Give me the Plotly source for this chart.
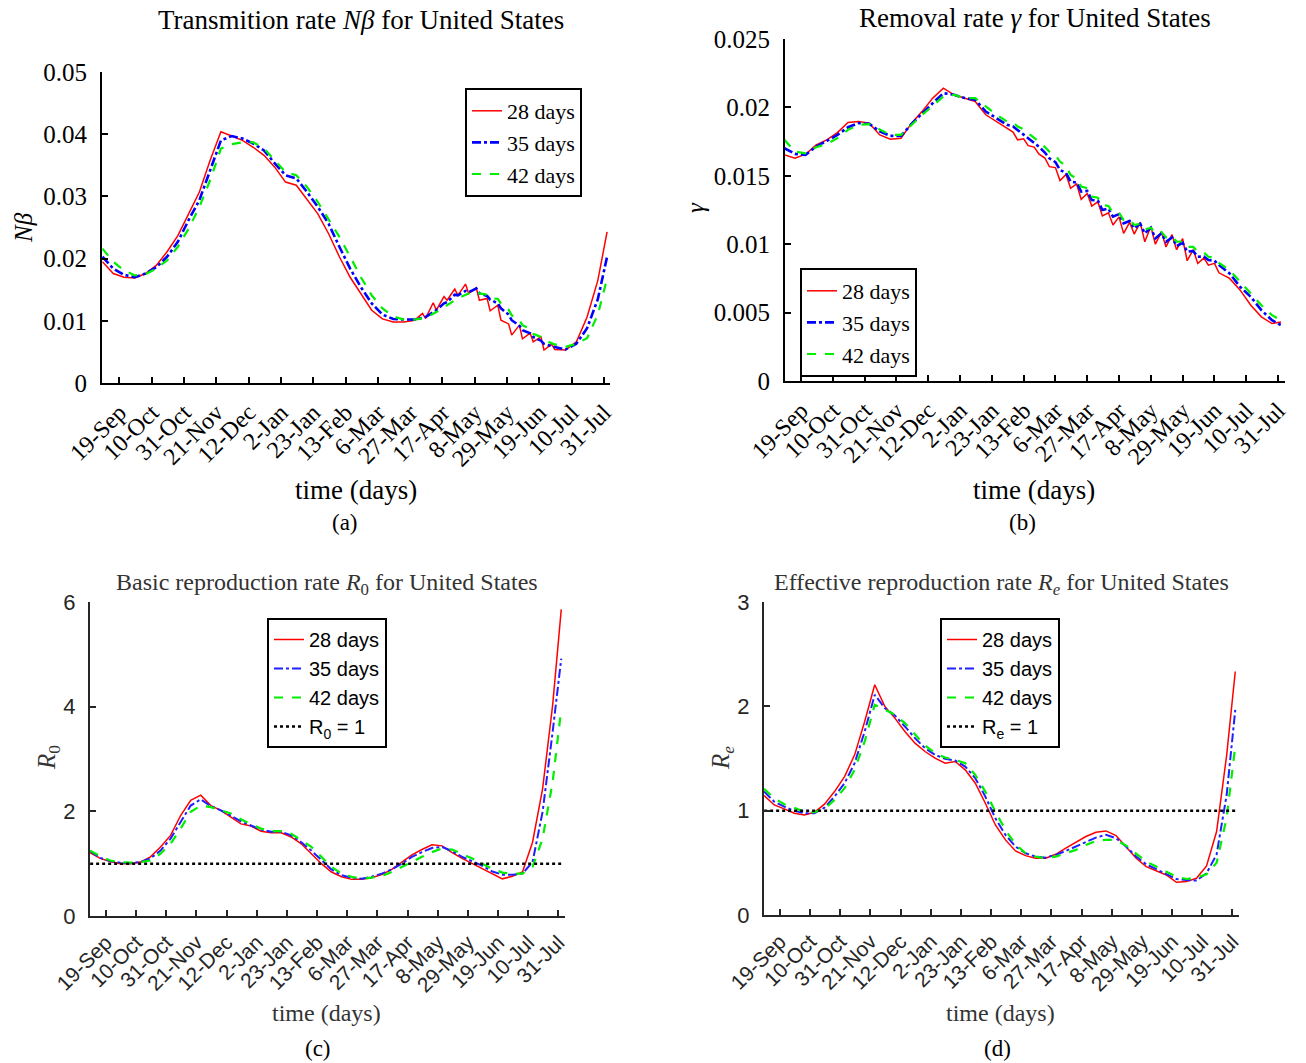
import plotly.graph_objects as go
import pandas as pd

# ---------------- data ----------------
DATES = ["2020-09-08", "2020-09-15", "2020-09-22", "2020-09-29", "2020-10-06", "2020-10-13",
         "2020-10-20", "2020-10-27", "2020-11-03", "2020-11-10", "2020-11-17", "2020-11-24",
         "2020-12-01", "2020-12-08", "2020-12-15", "2020-12-22", "2020-12-29", "2021-01-05",
         "2021-01-12", "2021-01-19", "2021-01-26", "2021-02-02", "2021-02-09", "2021-02-16",
         "2021-02-23", "2021-03-02", "2021-03-09", "2021-03-16", "2021-03-23", "2021-03-30",
         "2021-04-06", "2021-04-13", "2021-04-20", "2021-04-27", "2021-05-04", "2021-05-11",
         "2021-05-18", "2021-05-25", "2021-06-01", "2021-06-08", "2021-06-15", "2021-06-22",
         "2021-06-29", "2021-07-06", "2021-07-13", "2021-07-20", "2021-07-27", "2021-08-02"]

TICK_DATES = ["2020-09-19", "2020-10-10", "2020-10-31", "2020-11-21", "2020-12-12", "2021-01-02",
              "2021-01-23", "2021-02-13", "2021-03-06", "2021-03-27", "2021-04-17", "2021-05-08",
              "2021-05-29", "2021-06-19", "2021-07-10", "2021-07-31"]
TICK_LABELS = ["19-Sep", "10-Oct", "31-Oct", "21-Nov", "12-Dec", "2-Jan", "23-Jan", "13-Feb",
               "6-Mar", "27-Mar", "17-Apr", "8-May", "29-May", "19-Jun", "10-Jul", "31-Jul"]

SERIES_NAMES = ["28 days", "35 days", "42 days"]

# (a) transmission rate N*beta (weekly samples)
NB_28 = [0.0195, 0.0176, 0.0170, 0.0169, 0.0176, 0.0189, 0.0211, 0.0237, 0.0272, 0.0307, 0.0358, 0.0404,
         0.0397, 0.0390, 0.0379, 0.0366, 0.0347, 0.0323, 0.0318, 0.0294, 0.0272, 0.0240, 0.0203, 0.0170,
         0.0144, 0.0117, 0.0103, 0.0098, 0.0098, 0.0101, 0.0104, 0.0117, 0.0133, 0.0141, 0.0144, 0.0133,
         0.0116, 0.0101, 0.0077, 0.0071, 0.0066, 0.0053, 0.0054, 0.0053, 0.0066, 0.0106, 0.0165, 0.0243]
NB_35 = [0.0203, 0.0184, 0.0174, 0.0170, 0.0176, 0.0186, 0.0203, 0.0227, 0.0262, 0.0294, 0.0342, 0.0390,
         0.0397, 0.0393, 0.0385, 0.0374, 0.0353, 0.0334, 0.0329, 0.0307, 0.0283, 0.0256, 0.0219, 0.0184,
         0.0154, 0.0128, 0.0110, 0.0103, 0.0102, 0.0102, 0.0106, 0.0117, 0.0130, 0.0141, 0.0146, 0.0144,
         0.0134, 0.0120, 0.0101, 0.0085, 0.0074, 0.0063, 0.0058, 0.0054, 0.0063, 0.0088, 0.0135, 0.0203]
NB_42 = [0.0216, 0.0195, 0.0181, 0.0173, 0.0175, 0.0184, 0.0197, 0.0219, 0.0248, 0.0283, 0.0326, 0.0377,
         0.0384, 0.0387, 0.0387, 0.0377, 0.0358, 0.0339, 0.0334, 0.0315, 0.0291, 0.0264, 0.0235, 0.0203,
         0.0170, 0.0141, 0.0120, 0.0107, 0.0102, 0.0102, 0.0105, 0.0114, 0.0125, 0.0136, 0.0144, 0.0144,
         0.0137, 0.0128, 0.0109, 0.0093, 0.0079, 0.0069, 0.0062, 0.0058, 0.0063, 0.0072, 0.0110, 0.0168]
# weekly ripple peaks read between the weekly samples
NB_PEAK_DATES_28 = ["2021-04-04", "2021-04-11", "2021-04-18", "2021-04-25", "2021-05-02", "2021-05-09",
                    "2021-05-16", "2021-05-23", "2021-05-30", "2021-06-06", "2021-06-13", "2021-06-20",
                    "2021-06-27"]
NB_PEAK_28 = [0.0112, 0.0129, 0.0139, 0.0151, 0.0159, 0.0153, 0.0136, 0.0125, 0.0095, 0.0093, 0.0080,
              0.0074, 0.0062]
NB_PEAK_DATES_35 = ["2021-04-18", "2021-04-25", "2021-05-02", "2021-05-09", "2021-05-16", "2021-05-23",
                    "2021-05-30", "2021-06-06", "2021-06-13", "2021-06-20"]
NB_PEAK_35 = [0.0128, 0.0142, 0.0148, 0.0152, 0.0140, 0.0128, 0.0110, 0.0092, 0.0080, 0.0068]
NB_PEAK_DATES_42 = ["2021-05-09", "2021-05-16", "2021-05-23", "2021-05-30", "2021-06-06", "2021-06-13",
                    "2021-06-20"]
NB_PEAK_42 = [0.0147, 0.0142, 0.0135, 0.0118, 0.0101, 0.0087, 0.0074]

# (b) removal rate gamma (weekly samples)
G_28 = [0.01653, 0.01628, 0.01658, 0.01726, 0.01763, 0.01816, 0.01890, 0.01897, 0.01885, 0.01799, 0.01768,
        0.01775, 0.01885, 0.01971, 0.02068, 0.02141, 0.02092, 0.02068, 0.02043, 0.01946, 0.01897, 0.01848,
        0.01763, 0.01720, 0.01660, 0.01567, 0.01465, 0.01409, 0.01328, 0.01279, 0.01206, 0.01140, 0.01079,
        0.01074, 0.01018, 0.01000, 0.00980, 0.00960, 0.00879, 0.00859, 0.00847, 0.00791, 0.00750, 0.00664,
        0.00554, 0.00469, 0.00420, 0.00432]
G_35 = [0.01702, 0.01660, 0.01653, 0.01714, 0.01755, 0.01799, 0.01855, 0.01885, 0.01880, 0.01824, 0.01792,
        0.01792, 0.01880, 0.01958, 0.02031, 0.02104, 0.02092, 0.02068, 0.02056, 0.01970, 0.01921, 0.01873,
        0.01836, 0.01775, 0.01714, 0.01628, 0.01543, 0.01458, 0.01384, 0.01323, 0.01250, 0.01201, 0.01152,
        0.01116, 0.01079, 0.01042, 0.01018, 0.00986, 0.00945, 0.00908, 0.00884, 0.00847, 0.00786, 0.00688,
        0.00615, 0.00518, 0.00444, 0.00408]
G_42 = [0.01763, 0.01677, 0.01665, 0.01709, 0.01733, 0.01775, 0.01836, 0.01873, 0.01877, 0.01836, 0.01799,
        0.01799, 0.01873, 0.01946, 0.02012, 0.02080, 0.02092, 0.02068, 0.02068, 0.02007, 0.01946, 0.01897,
        0.01860, 0.01812, 0.01750, 0.01677, 0.01604, 0.01506, 0.01421, 0.01348, 0.01287, 0.01230, 0.01177,
        0.01140, 0.01108, 0.01079, 0.01050, 0.01018, 0.00981, 0.00945, 0.00908, 0.00864, 0.00811, 0.00725,
        0.00640, 0.00554, 0.00481, 0.00444]
# weekly ripple peaks of gamma
G_PEAK_DATES = ["2021-02-06", "2021-02-13", "2021-02-20", "2021-02-27", "2021-03-06", "2021-03-13",
                "2021-03-20", "2021-03-27", "2021-04-03", "2021-04-10", "2021-04-17", "2021-04-24",
                "2021-05-01", "2021-05-08", "2021-05-15", "2021-05-22", "2021-05-29", "2021-06-05",
                "2021-06-12", "2021-06-19"]
G_PEAK_28 = [0.0182, 0.0177, 0.0171, 0.0163, 0.0156, 0.0151, 0.0144, 0.0137, 0.0131, 0.0123, 0.0120,
             0.0116, 0.0116, 0.0113, 0.0109, 0.0107, 0.0104, 0.0096, 0.0090, 0.0086]
G_PEAK_35 = [0.0186, 0.0180, 0.0174, 0.0167, 0.0160, 0.0152, 0.0145, 0.0139, 0.0132, 0.0126, 0.0122,
             0.0117, 0.0115, 0.0112, 0.0108, 0.0105, 0.0101, 0.0095, 0.0091, 0.0088]
G_PEAK_42 = [0.0189, 0.0184, 0.0178, 0.0171, 0.0165, 0.0157, 0.0148, 0.0141, 0.0134, 0.0128, 0.0123,
             0.0118, 0.0115, 0.0112, 0.0109, 0.0106, 0.0102, 0.0098, 0.0094, 0.0090]

# (c) basic reproduction rate R0
R0_28 = [1.21, 1.10, 1.04, 1.00, 1.00, 1.03, 1.13, 1.32, 1.54, 1.92, 2.21, 2.31, 2.11, 2.02, 1.89, 1.76,
         1.72, 1.62, 1.59, 1.59, 1.51, 1.38, 1.19, 1.00, 0.84, 0.75, 0.70, 0.70, 0.73, 0.79, 0.89, 1.03,
         1.17, 1.27, 1.36, 1.34, 1.21, 1.10, 1.00, 0.90, 0.81, 0.71, 0.76, 0.84, 1.41, 2.43, 4.03, 5.86]
R0_35 = [1.24, 1.11, 1.05, 1.02, 1.01, 1.03, 1.10, 1.25, 1.48, 1.80, 2.11, 2.23, 2.10, 2.02, 1.92, 1.81,
         1.73, 1.65, 1.61, 1.61, 1.54, 1.41, 1.25, 1.06, 0.89, 0.78, 0.73, 0.71, 0.75, 0.81, 0.89, 1.00,
         1.13, 1.22, 1.30, 1.32, 1.24, 1.13, 1.04, 0.96, 0.85, 0.79, 0.79, 0.81, 1.03, 1.99, 3.52, 4.92]
R0_42 = [1.25, 1.14, 1.06, 1.03, 1.02, 1.03, 1.06, 1.19, 1.38, 1.67, 1.99, 2.11, 2.08, 2.02, 1.96, 1.85,
         1.75, 1.67, 1.62, 1.62, 1.57, 1.45, 1.32, 1.13, 0.94, 0.81, 0.75, 0.71, 0.73, 0.76, 0.84, 0.94,
         1.03, 1.13, 1.22, 1.29, 1.27, 1.19, 1.10, 1.00, 0.90, 0.83, 0.81, 0.81, 0.94, 1.48, 2.56, 3.96]

# (d) effective reproduction rate Re
RE_28 = [1.145, 1.055, 1.017, 0.975, 0.959, 0.985, 1.062, 1.183, 1.327, 1.535, 1.855, 2.207, 1.999, 1.887,
         1.759, 1.647, 1.567, 1.503, 1.455, 1.471, 1.391, 1.263, 1.071, 0.863, 0.720, 0.614, 0.569, 0.544,
         0.544, 0.582, 0.640, 0.697, 0.752, 0.793, 0.806, 0.761, 0.656, 0.544, 0.464, 0.422, 0.384, 0.313,
         0.320, 0.352, 0.470, 0.800, 1.530, 2.334]
RE_35 = [1.183, 1.087, 1.039, 0.998, 0.975, 0.975, 1.029, 1.135, 1.263, 1.455, 1.759, 2.111, 1.983, 1.912,
         1.807, 1.695, 1.599, 1.535, 1.497, 1.481, 1.423, 1.311, 1.135, 0.926, 0.768, 0.656, 0.592, 0.560,
         0.550, 0.576, 0.614, 0.656, 0.704, 0.742, 0.768, 0.736, 0.656, 0.560, 0.486, 0.441, 0.390, 0.345,
         0.336, 0.330, 0.400, 0.580, 1.150, 1.967]
RE_42 = [1.209, 1.119, 1.062, 1.023, 0.991, 0.985, 1.017, 1.103, 1.215, 1.391, 1.663, 2.015, 1.967, 1.919,
         1.839, 1.727, 1.625, 1.551, 1.509, 1.487, 1.455, 1.343, 1.183, 0.991, 0.815, 0.678, 0.592, 0.560,
         0.544, 0.560, 0.592, 0.624, 0.672, 0.710, 0.720, 0.720, 0.665, 0.592, 0.512, 0.464, 0.416, 0.368,
         0.345, 0.360, 0.390, 0.500, 0.930, 1.620]

THRESHOLD = 1.0

# ---------------- helpers ----------------
W, H = 1306, 1063
SERIF = "Liberation Serif"
SANS = "Liberation Sans"


def fx(px):
    return px / W


def fy(py):
    return 1 - py / H


def drange(before, after):
    t0 = pd.Timestamp(TICK_DATES[0]) - pd.Timedelta(hours=before * 24)
    t1 = pd.Timestamp(TICK_DATES[-1]) + pd.Timedelta(hours=after * 24)
    return [t0.strftime("%Y-%m-%d %H:%M"), t1.strftime("%Y-%m-%d %H:%M")]


def combine(dates, vals, extra_dates=None, extra_vals=None):
    """Merge weekly samples with the ripple samples read between them, in date order."""
    d = list(dates) + list(extra_dates or [])
    v = list(vals) + list(extra_vals or [])
    s = pd.Series(v, index=pd.to_datetime(d)).sort_index()
    return [t.strftime("%Y-%m-%d") for t in s.index], s.tolist()


panels = [
    dict(n=1, xpx=(102, 610), ypx=(72, 383), xr=drange(11.3, 3.9), yr=[0, 0.05], dt=0.01,
         series=[combine(DATES, NB_28, NB_PEAK_DATES_28, NB_PEAK_28),
                 combine(DATES, NB_35, NB_PEAK_DATES_35, NB_PEAK_35),
                 combine(DATES, NB_42, NB_PEAK_DATES_42, NB_PEAK_42)],
         font=SERIF, tfs=25, lcol="#000000", sans=False,
         title="Transmition rate <i>Nβ</i> for United States", tpos=(361, 20), tsize=27,
         ylab="<i>Nβ</i>", ylpos=(24, 228), xlpos=(356, 490), sub="(a)", subpos=(345, 523),
         leg=(465, 88), thr=None),
    dict(n=2, xpx=(785, 1285), ypx=(39, 381), xr=drange(10.6, 4.6), yr=[0, 0.025], dt=0.005,
         series=[combine(DATES, G_28, G_PEAK_DATES, G_PEAK_28),
                 combine(DATES, G_35, G_PEAK_DATES, G_PEAK_35),
                 combine(DATES, G_42, G_PEAK_DATES, G_PEAK_42)],
         font=SERIF, tfs=25, lcol="#000000", sans=False,
         title="Removal rate <i>γ</i> for United States", tpos=(1035, 18), tsize=27,
         ylab="<i>γ</i>", ylpos=(695, 208), xlpos=(1034, 490), sub="(b)", subpos=(1022, 523),
         leg=(800, 268), thr=None),
    dict(n=3, xpx=(90, 565), ypx=(602, 916), xr=drange(11.1, 4.6), yr=[0, 6], dt=2,
         series=[combine(DATES, R0_28), combine(DATES, R0_35), combine(DATES, R0_42)],
         font=SANS, tfs=22, lcol="#262626", sans=True,
         title="Basic reproduction rate <i>R</i><sub>0</sub> for United States", tpos=(327, 584), tsize=24,
         ylab="<i>R</i><sub>0</sub>", ylpos=(48, 758), xlpos=(327, 1013), sub="(c)", subpos=(318, 1048),
         leg=(267, 618), thr="R<sub>0</sub> = 1"),
    dict(n=4, xpx=(764, 1239), ypx=(602, 915), xr=drange(11.1, 4.6), yr=[0, 3], dt=1,
         series=[combine(DATES, RE_28), combine(DATES, RE_35), combine(DATES, RE_42)],
         font=SANS, tfs=22, lcol="#262626", sans=True,
         title="Effective reproduction rate <i>R<sub>e</sub></i> for United States", tpos=(1001, 584), tsize=24,
         ylab="<i>R<sub>e</sub></i>", ylpos=(722, 758), xlpos=(1000, 1013), sub="(d)", subpos=(997, 1048),
         leg=(940, 618), thr="R<sub>e</sub> = 1"),
]

fig = go.Figure()
annotations = []
layout = {}

for p in panels:
    n = p["n"]
    sfx = "" if n == 1 else str(n)
    xa, ya = "x" + sfx, "y" + sfx
    legname = "legend" + sfx
    if p["sans"]:
        styles = [dict(color="#ff0000", width=1.5, dash="solid"),
                  dict(color="#2020ff", width=2.0, dash="dashdot"),
                  dict(color="#00ee00", width=2.2, dash="dash")]
    else:
        styles = [dict(color="#ff0000", width=1.5, dash="solid"),
                  dict(color="#0000ff", width=2.6, dash="dashdot"),
                  dict(color="#00ee00", width=2.2, dash="dash")]
    for name, (xs, ys), st in zip(SERIES_NAMES, p["series"], styles):
        fig.add_trace(go.Scatter(x=xs, y=ys, mode="lines", name=name, line=st,
                                 xaxis=xa, yaxis=ya, legend=legname))
    if p["thr"]:
        fig.add_trace(go.Scatter(x=[DATES[0], DATES[-1]], y=[THRESHOLD, THRESHOLD], mode="lines",
                                 name=p["thr"], line=dict(color="#000000", width=2.5, dash="dot"),
                                 xaxis=xa, yaxis=ya, legend=legname))

    tickcol = "#000000" if not p["sans"] else "#262626"
    layout["xaxis" + sfx] = dict(
        domain=[fx(p["xpx"][0]), fx(p["xpx"][1])], anchor=ya, type="date", range=p["xr"],
        tickmode="array", tickvals=TICK_DATES, ticktext=TICK_LABELS, tickangle=-45,
        ticks="inside", ticklen=6, tickwidth=2, tickcolor=p["lcol"], automargin=False,
        showline=True, linecolor=p["lcol"], linewidth=2, showgrid=False, zeroline=False,
        tickfont=dict(family=p["font"], size=p["tfs"] - 1, color=tickcol), ticklabelstandoff=4,
    )
    layout["yaxis" + sfx] = dict(
        domain=[fy(p["ypx"][1]), fy(p["ypx"][0])], anchor=xa, range=p["yr"], dtick=p["dt"], tick0=0,
        ticks="inside", ticklen=6, tickwidth=2, tickcolor=p["lcol"], automargin=False,
        showline=True, linecolor=p["lcol"], linewidth=2, showgrid=False, zeroline=False,
        tickfont=dict(family=p["font"], size=p["tfs"], color=tickcol), ticklabelstandoff=8,
    )
    layout[legname] = dict(
        x=fx(p["leg"][0]), y=fy(p["leg"][1]), xanchor="left", yanchor="top",
        bgcolor="#ffffff", bordercolor="#000000", borderwidth=2,
        font=dict(family=p["font"], size=(22 if not p["sans"] else 20), color="#000000"),
        tracegroupgap=0, itemwidth=30,
    )
    txtcol = "#000000" if not p["sans"] else "#333333"
    annotations += [
        dict(text=p["title"], x=fx(p["tpos"][0]), y=fy(p["tpos"][1]), xref="paper", yref="paper",
             showarrow=False, xanchor="center", yanchor="middle",
             font=dict(family=SERIF, size=p["tsize"], color=txtcol)),
        dict(text=p["ylab"], x=fx(p["ylpos"][0]), y=fy(p["ylpos"][1]), xref="paper", yref="paper",
             showarrow=False, xanchor="center", yanchor="middle", textangle=-90,
             font=dict(family=SERIF, size=25, color=txtcol)),
        dict(text="time (days)", x=fx(p["xlpos"][0]), y=fy(p["xlpos"][1]), xref="paper", yref="paper",
             showarrow=False, xanchor="center", yanchor="middle",
             font=dict(family=SERIF, size=(27 if not p["sans"] else 24), color=txtcol)),
        dict(text=p["sub"], x=fx(p["subpos"][0]), y=fy(p["subpos"][1]), xref="paper", yref="paper",
             showarrow=False, xanchor="center", yanchor="middle",
             font=dict(family=SERIF, size=23, color="#000000")),
    ]

fig.update_layout(
    width=W, height=H, margin=dict(l=0, r=0, t=0, b=0, autoexpand=False),
    paper_bgcolor="#ffffff", plot_bgcolor="#ffffff",
    annotations=annotations, **layout,
)

fig.write_html("out.html")
